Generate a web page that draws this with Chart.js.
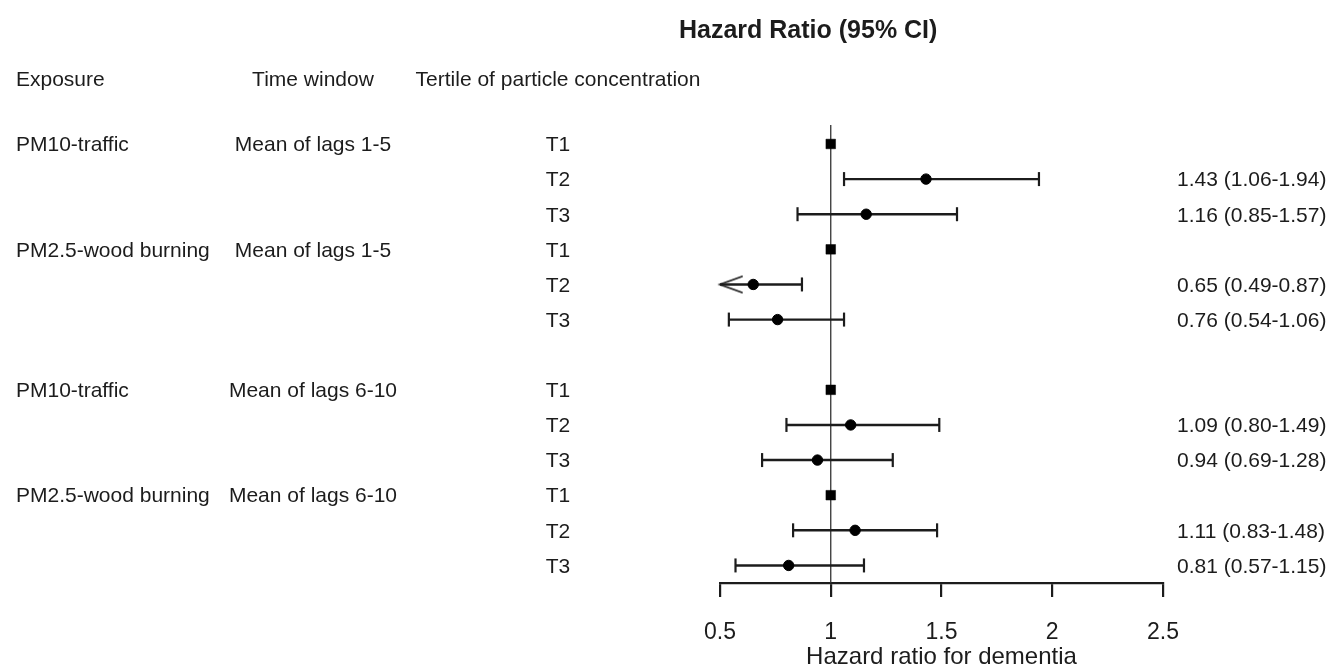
<!DOCTYPE html>
<html><head><meta charset="utf-8">
<script src="https://cdn.jsdelivr.net/npm/chart.js@4.4.0/dist/chart.umd.min.js"></script>
<style>html,body{margin:0;padding:0;background:#fff;}#wrap{position:relative;width:1335px;height:672px;}</style>
</head><body><div id="wrap"><canvas id="c" width="1335" height="672"></canvas></div>
<script>
// ---- data ----
const exposures = ['PM10-traffic', 'PM2.5-wood burning', 'PM10-traffic', 'PM2.5-wood burning'];
const timeWindows = ['Mean of lags 1-5', 'Mean of lags 1-5', 'Mean of lags 6-10', 'Mean of lags 6-10'];
const tertiles = ['T1', 'T2', 'T3'];
const hazardRatio = [1.00, 1.43, 1.16, 1.00, 0.65, 0.76, 1.00, 1.09, 0.94, 1.00, 1.11, 0.81];
const ciLower = [null, 1.06, 0.85, null, 0.49, 0.54, null, 0.80, 0.69, null, 0.83, 0.57];
const ciUpper = [null, 1.94, 1.57, null, 0.87, 1.06, null, 1.49, 1.28, null, 1.48, 1.15];
const xTicks = [0.5, 1, 1.5, 2, 2.5];
const headers = ['Exposure', 'Time window', 'Tertile of particle concentration'];
const chartTitle = 'Hazard Ratio (95% CI)';
const xTitle = 'Hazard ratio for dementia';

// ---- derived row layout (blank row where the time window changes) ----
const rows = [];
let r = 0;
exposures.forEach((e, g) => {
  if (g > 0 && timeWindows[g] !== timeWindows[g - 1]) r++;
  tertiles.forEach((t, k) => { rows.push({ g, k, row: r, i: g * 3 + k }); r++; });
});
const nRows = r;
const xMin = xTicks[0], xMax = xTicks[xTicks.length - 1];

const FONT = '"Liberation Sans", Arial, Helvetica, sans-serif';
const INK = '#1c1c1c';

// open chevron arrow used when CI runs past the axis minimum
const arrow = document.createElement('canvas');
arrow.width = 48; arrow.height = 20;
(function () {
  const a = arrow.getContext('2d');
  a.strokeStyle = INK; a.lineWidth = 1.8; a.lineCap = 'round';
  a.beginPath(); a.moveTo(46, 2); a.lineTo(24, 10); a.lineTo(46, 18); a.stroke();
})();

const datasets = [];
// estimate points (non-reference)
datasets.push({
  type: 'scatter',
  data: rows.filter(o => ciLower[o.i] !== null).map(o => ({ x: hazardRatio[o.i], y: o.row })),
  pointStyle: 'circle', pointRadius: 5.2, pointBackgroundColor: '#000', pointBorderColor: '#000', pointBorderWidth: 1,
  order: 1
});
// reference points (T1)
datasets.push({
  type: 'scatter',
  data: rows.filter(o => ciLower[o.i] === null).map(o => ({ x: hazardRatio[o.i], y: o.row })),
  pointStyle: 'rect', pointRadius: 6.8, pointBackgroundColor: '#000', pointBorderColor: '#000', pointBorderWidth: 0.5,
  order: 2
});
// confidence intervals
rows.filter(o => ciLower[o.i] !== null).forEach(o => {
  const clipped = ciLower[o.i] < xMin;
  datasets.push({
    type: 'scatter', showLine: true,
    data: [{ x: Math.max(ciLower[o.i], xMin), y: o.row }, { x: ciUpper[o.i], y: o.row }],
    borderColor: INK, borderWidth: 2.4,
    pointStyle: [clipped ? arrow : 'line', 'line'],
    rotation: [clipped ? 0 : 90, 90],
    pointRadius: [clipped ? 10 : 7, 7],
    pointBorderColor: INK, pointBorderWidth: 2.2,
    clip: false, order: 3
  });
});
// reference line at HR = 1
datasets.push({
  type: 'scatter', showLine: true,
  data: [{ x: 1, y: -0.54 }, { x: 1, y: nRows - 0.5 }],
  borderColor: '#333', borderWidth: 1.3, pointRadius: 0, order: 4
});

const tablePlugin = {
  id: 'table',
  afterDraw(chart) {
    const ctx = chart.ctx, ys = chart.scales.y;
    ctx.save();
    ctx.fillStyle = INK;
    ctx.textBaseline = 'middle';
    ctx.font = 'bold 25px ' + FONT;
    ctx.textAlign = 'left';
    ctx.fillText(chartTitle, 679, 31);
    ctx.font = '21px ' + FONT;
    ctx.textAlign = 'left'; ctx.fillText(headers[0], 16, 80);
    ctx.textAlign = 'center'; ctx.fillText(headers[1], 313, 80);
    ctx.textAlign = 'center'; ctx.fillText(headers[2], 558, 80);
    rows.forEach(o => {
      const y = ys.getPixelForValue(o.row) + 1.5;
      if (o.k === 0) {
        ctx.textAlign = 'left'; ctx.fillText(exposures[o.g], 16, y);
        ctx.textAlign = 'center'; ctx.fillText(timeWindows[o.g], 313, y);
      }
      ctx.textAlign = 'center'; ctx.fillText(tertiles[o.k], 558, y);
      if (ciLower[o.i] !== null) {
        ctx.textAlign = 'left';
        ctx.fillText(hazardRatio[o.i].toFixed(2) + ' (' + ciLower[o.i].toFixed(2) + '-' + ciUpper[o.i].toFixed(2) + ')', 1177, y);
      }
    });
    ctx.restore();
  }
};

new Chart(document.getElementById('c'), {
  type: 'scatter',
  data: { datasets },
  options: {
    responsive: false, animation: false, events: [],
    layout: { padding: { left: 720, right: 172, top: 125, bottom: 0 } },
    plugins: { legend: { display: false }, tooltip: { enabled: false }, title: { display: false } },
    scales: {
      x: {
        type: 'linear', position: 'bottom', min: xMin, max: xMax,
        afterBuildTicks: s => { s.ticks = xTicks.map(v => ({ value: v })); },
        afterFit: s => { s.height = 89; },
        grid: { display: true, drawOnChartArea: false, drawTicks: true, tickLength: 14, tickWidth: 2.2, tickColor: INK, color: INK, lineWidth: 2.2 },
        border: { display: true, color: INK, width: 2.2 },
        ticks: { font: { family: FONT, size: 23 }, color: INK, padding: 22, maxRotation: 0, autoSkip: false,
          callback: v => String(v) },
        title: { display: true, text: xTitle, color: INK, font: { family: FONT, size: 24 }, padding: { top: 0, bottom: 0 } }
      },
      y: { type: 'linear', display: false, reverse: true, min: -0.54, max: nRows - 0.5 }
    }
  },
  plugins: [tablePlugin]
});
</script>
</body></html>
